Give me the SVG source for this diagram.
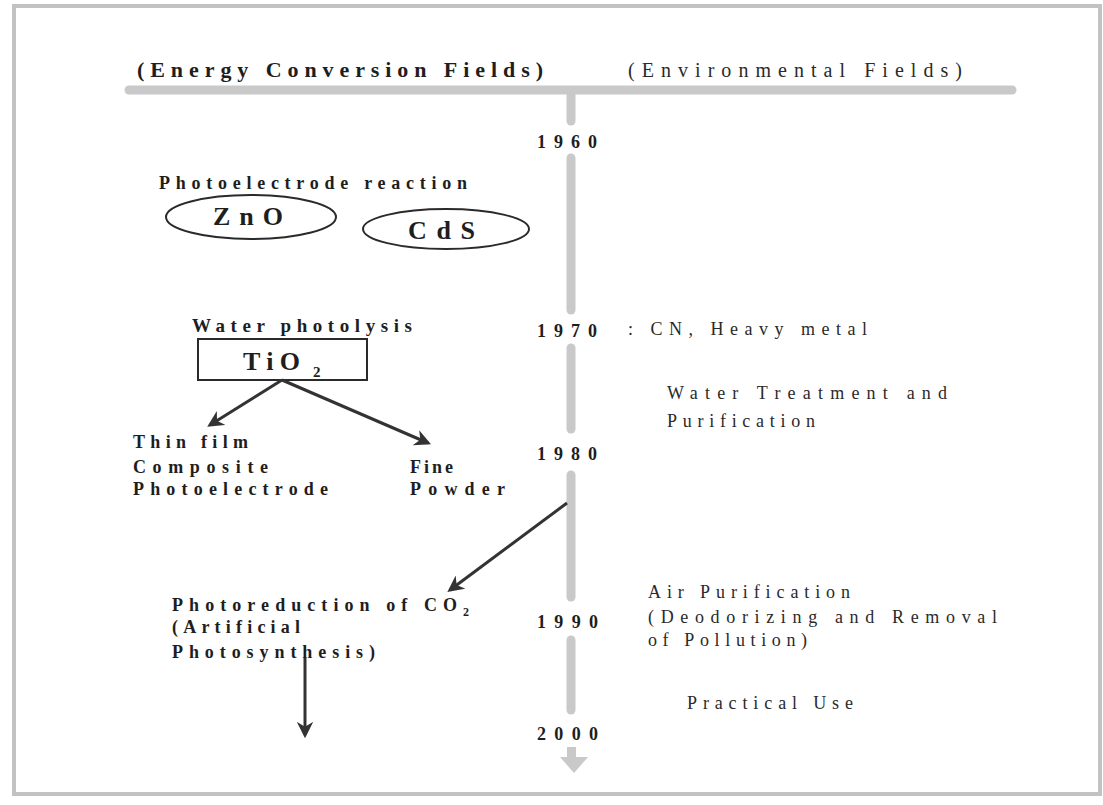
<svg xmlns="http://www.w3.org/2000/svg" width="1103" height="805" viewBox="0 0 1103 805">
<style>
.b{font-family:"Liberation Serif","Times New Roman",serif;font-weight:bold;fill:#1e1e1e}
.r{font-family:"Liberation Serif","Times New Roman",serif;fill:#2a2a2a}
.tl{stroke:#c9c9c9;stroke-width:9;stroke-linecap:round;fill:none}
.ar{stroke:#333;stroke-width:3;fill:none;marker-end:url(#ah)}
.sh{fill:none;stroke:#2a2a2a;stroke-width:2}
</style>
<defs>
<marker id="ah" viewBox="0 0 10 10" refX="8" refY="5" markerWidth="5.5" markerHeight="5.5" orient="auto" markerUnits="strokeWidth">
<path d="M0,0 L10,5 L0,10 L3,5 Z" fill="#333"/>
</marker>
</defs>
<rect x="0" y="0" width="1103" height="805" fill="#fff"/>
<rect x="14" y="6" width="1086" height="788" fill="none" stroke="#c2c2c2" stroke-width="4"/>

<g id="headers">
<text class="b" x="137" y="77" font-size="22" textLength="406" lengthAdjust="spacing">(Energy Conversion Fields)</text>
<text class="r" x="628" y="77" font-size="20" textLength="334" lengthAdjust="spacing">(Environmental Fields)</text>
</g>

<g id="timeline">
<line class="tl" x1="129" y1="90" x2="1012" y2="90" stroke-width="10"/>
<line class="tl" x1="571" y1="92" x2="571" y2="121"/>
<line class="tl" x1="571" y1="158" x2="571" y2="310"/>
<line class="tl" x1="571" y1="348" x2="571" y2="429"/>
<line class="tl" x1="571" y1="475" x2="571" y2="597"/>
<line class="tl" x1="571" y1="640" x2="571" y2="710"/>
<path d="M567,747 H576 V757 H588 L574,773 L560,757 H567 Z" fill="#c9c9c9"/>
<text class="b" x="537" y="148" font-size="18" textLength="60" lengthAdjust="spacing">1960</text>
<text class="b" x="537" y="337" font-size="18" textLength="60" lengthAdjust="spacing">1970</text>
<text class="b" x="537" y="460" font-size="18" textLength="60" lengthAdjust="spacing">1980</text>
<text class="b" x="537" y="628" font-size="18" textLength="61" lengthAdjust="spacing">1990</text>
<text class="b" x="537" y="740" font-size="18" textLength="61" lengthAdjust="spacing">2000</text>
</g>

<g id="photoelectrode">
<text class="b" x="159" y="189" font-size="18" textLength="308" lengthAdjust="spacing">Photoelectrode reaction</text>
</g>
<g id="zno">
<ellipse class="sh" cx="251" cy="217" rx="85" ry="22"/>
<text class="b" x="213" y="225" font-size="26" textLength="70" lengthAdjust="spacing">ZnO</text>
</g>
<g id="cds">
<ellipse class="sh" cx="446" cy="229" rx="83" ry="20"/>
<text class="b" x="408" y="239" font-size="26" textLength="67" lengthAdjust="spacing">CdS</text>
</g>

<g id="water-photolysis">
<text class="b" x="192" y="332" font-size="19" textLength="220" lengthAdjust="spacing">Water photolysis</text>
</g>
<g id="tio2">
<rect class="sh" x="198" y="339" width="169" height="41"/>
<text class="b" font-size="26"><tspan x="243" y="370" textLength="57" lengthAdjust="spacing">TiO</tspan><tspan x="313" y="377" font-size="15">2</tspan></text>
</g>
<g id="thin-film">
<text class="b" x="133" y="448" font-size="18" textLength="115" lengthAdjust="spacing">Thin film</text>
<text class="b" x="133" y="473" font-size="18" textLength="135" lengthAdjust="spacing">Composite</text>
<text class="b" x="133" y="495" font-size="18" textLength="195" lengthAdjust="spacing">Photoelectrode</text>
</g>
<g id="fine-powder">
<text class="b" x="410" y="473" font-size="18" textLength="43" lengthAdjust="spacing">Fine</text>
<text class="b" x="410" y="495" font-size="18" textLength="95" lengthAdjust="spacing">Powder</text>
</g>
<g id="photoreduction">
<text class="b" font-size="18"><tspan x="172" y="611" textLength="285" lengthAdjust="spacing">Photoreduction of CO</tspan><tspan x="463" y="616" font-size="12">2</tspan></text>
<text class="b" x="172" y="633" font-size="18" textLength="128" lengthAdjust="spacing">(Artificial</text>
<text class="b" x="172" y="658" font-size="18" textLength="203" lengthAdjust="spacing">Photosynthesis)</text>
</g>

<g id="env-1970">
<text class="r" x="628" y="335" font-size="18" textLength="239" lengthAdjust="spacing">: CN, Heavy metal</text>
</g>
<g id="water-treatment">
<text class="r" x="667" y="399" font-size="18" textLength="280" lengthAdjust="spacing">Water Treatment and</text>
<text class="r" x="667" y="427" font-size="18" textLength="148" lengthAdjust="spacing">Purification</text>
</g>
<g id="air-purification">
<text class="r" x="648" y="598" font-size="18" textLength="202" lengthAdjust="spacing">Air Purification</text>
<text class="r" x="648" y="623" font-size="18" textLength="349" lengthAdjust="spacing">(Deodorizing and Removal</text>
<text class="r" x="648" y="646" font-size="18" textLength="159" lengthAdjust="spacing">of Pollution)</text>
</g>
<g id="practical-use">
<text class="r" x="687" y="709" font-size="18" textLength="166" lengthAdjust="spacing">Practical Use</text>
</g>

<g id="connectors">
<line class="ar" x1="282" y1="380" x2="210" y2="425"/>
<line class="ar" x1="282" y1="380" x2="428" y2="443"/>
<line class="ar" x1="567" y1="503" x2="450" y2="590"/>
<line class="ar" x1="305" y1="658" x2="305" y2="735"/>
</g>
</svg>
